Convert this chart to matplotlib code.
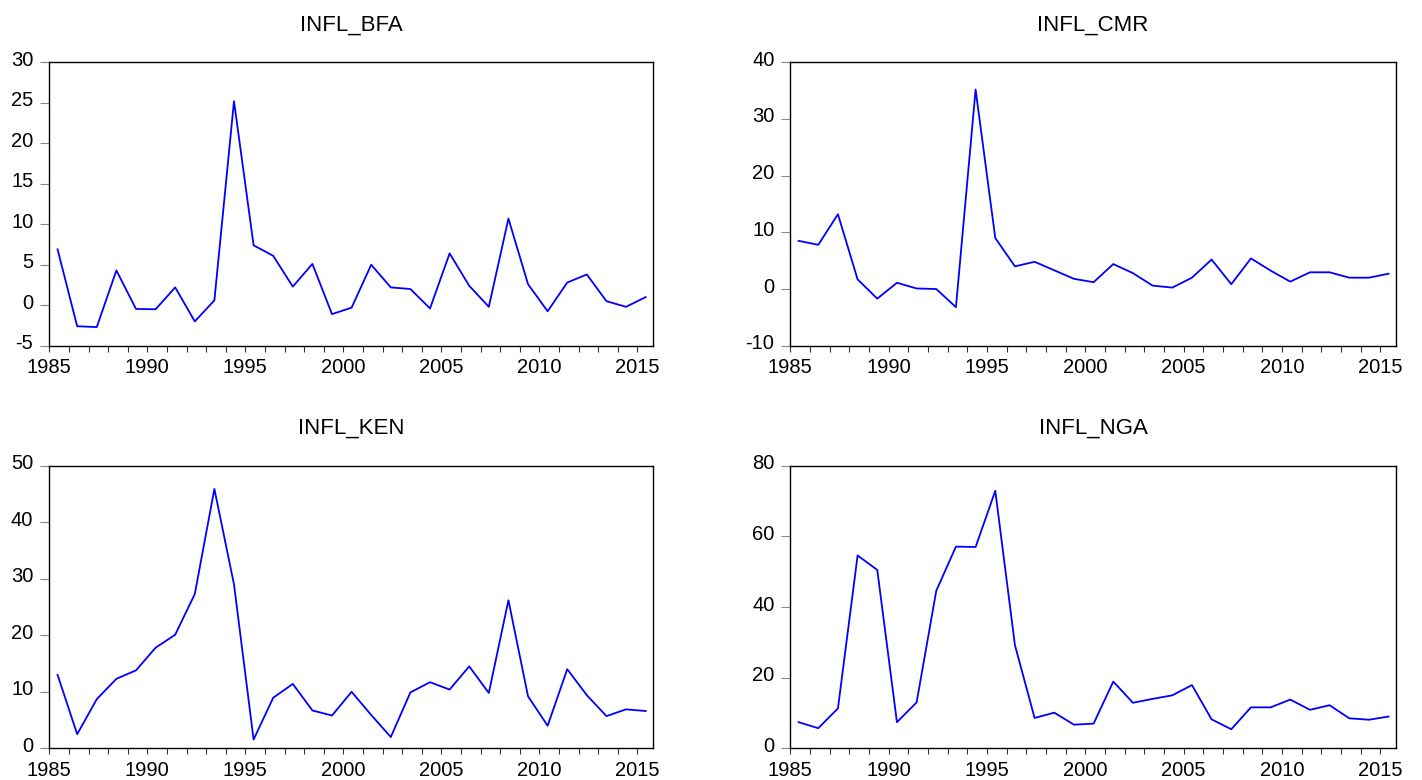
import numpy as np
import matplotlib
matplotlib.use('Agg')
import matplotlib.pyplot as plt
from matplotlib.ticker import MultipleLocator
from matplotlib.transforms import ScaledTranslation

plt.rcParams['font.family'] = ['Liberation Sans', 'DejaVu Sans']
plt.rcParams['axes.unicode_minus'] = False

years = list(range(1985, 2016))

infl_bfa = [6.9, -2.6, -2.7, 4.3, -0.46, -0.5, 2.2, -2.0, 0.6, 25.2,
            7.4, 6.1, 2.3, 5.1, -1.1, -0.3, 5.0, 2.2, 2.0, -0.4,
            6.4, 2.4, -0.2, 10.7, 2.6, -0.75, 2.8, 3.8, 0.5, -0.2, 1.0]

infl_cmr = [8.5, 7.8, 13.2, 1.7, -1.7, 1.1, 0.1, 0.0, -3.2, 35.2,
            9.0, 4.0, 4.8, 3.3, 1.8, 1.2, 4.4, 2.8, 0.6, 0.25,
            2.0, 5.2, 0.85, 5.4, 3.25, 1.3, 2.95, 2.95, 2.0, 2.0, 2.7]

infl_ken = [13.0, 2.5, 8.7, 12.3, 13.8, 17.8, 20.1, 27.3, 45.9, 29.0,
            1.55, 8.95, 11.4, 6.7, 5.8, 10.0, 5.9, 2.0, 9.9, 11.7,
            10.4, 14.5, 9.8, 26.2, 9.2, 4.0, 14.0, 9.4, 5.7, 6.9, 6.6]

infl_nga = [7.4, 5.7, 11.3, 54.6, 50.5, 7.4, 13.0, 44.6, 57.1, 57.0,
            72.9, 29.2, 8.6, 10.1, 6.7, 7.0, 18.9, 12.9, 14.0, 15.0,
            17.9, 8.2, 5.4, 11.6, 11.6, 13.8, 10.9, 12.2, 8.5, 8.1, 9.0]

titles = ['INFL_BFA', 'INFL_CMR', 'INFL_KEN', 'INFL_NGA']
series = [infl_bfa, infl_cmr, infl_ken, infl_nga]
y_ranges = [(-5, 30, 5), (-10, 40, 10), (0, 50, 10), (0, 80, 20)]

# eviews style: annual obs drawn in the middle of the year
x = np.array(years) + 0.42

fig = plt.figure(figsize=(14.22, 7.8), dpi=100)
rects = [[0.0347, 0.5568, 0.4243, 0.3633],
         [0.5558, 0.5568, 0.4257, 0.3633],
         [0.0347, 0.0406, 0.4243, 0.3623],
         [0.5558, 0.0406, 0.4257, 0.3623]]


def _panel(ax, data, title, yr):
    lo, hi, step = yr
    ax.plot(x, data, color='#0000ff', lw=1.3)
    ax.set_xlim(1985, 2015.78)
    ax.set_ylim(lo, hi)
    ax.set_xticks(np.arange(1985, 2016, 5))
    ax.xaxis.set_minor_locator(MultipleLocator(1))
    ax.set_yticks(np.arange(lo, hi + 1, step))
    ax.tick_params(axis='x', which='both', direction='out', length=4,
                   width=0.8, color='#333333', labelsize=14.5, pad=5)
    ax.tick_params(axis='y', direction='out', length=6.5, width=0.8,
                   color='#888888', labelsize=14.5, pad=5)
    for sp in ax.spines.values():
        sp.set_linewidth(1.0)
    ax.set_title(title, fontsize=16, pad=23)
    # labels sit a bit above the tick like in eviews
    off = ScaledTranslation(0, 4 / 100, fig.dpi_scale_trans)
    for lab in ax.get_yticklabels():
        lab.set_transform(lab.get_transform() + off)


for r, d, t, yr in zip(rects, series, titles, y_ranges):
    ax = fig.add_axes(r)
    _panel(ax, d, t, yr)

fig.savefig('out.png', dpi=100)
